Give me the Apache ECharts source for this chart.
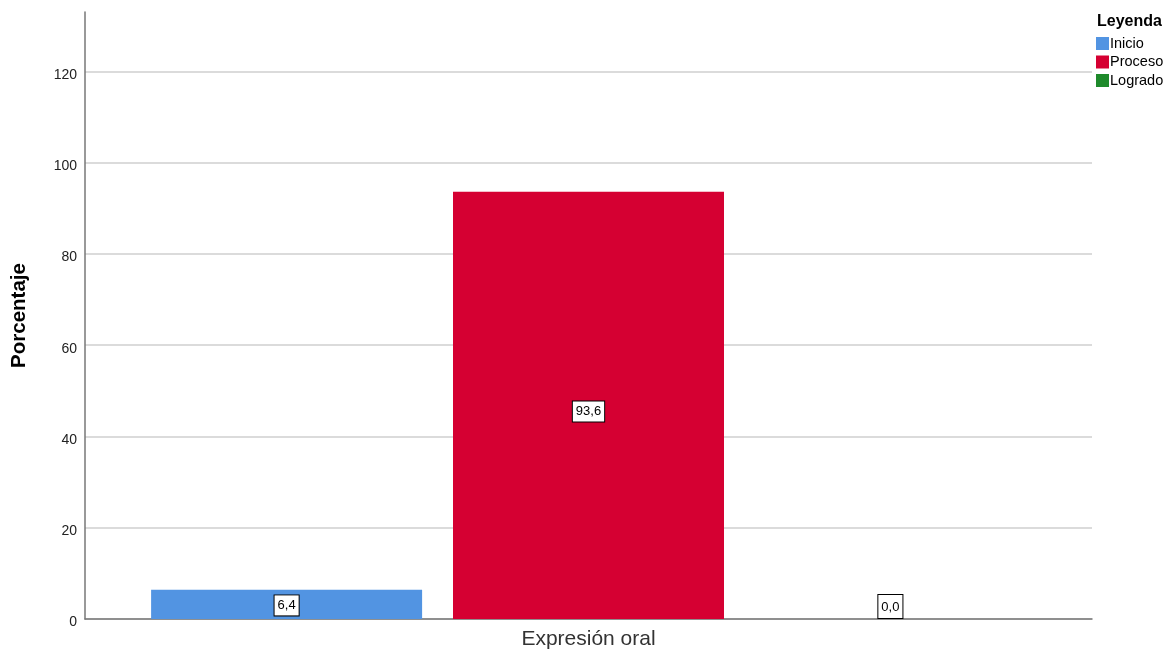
<!DOCTYPE html>
<html>
<head>
<meta charset="utf-8">
<script src="https://cdn.jsdelivr.net/npm/echarts@6/dist/echarts.min.js"></script>
<style>
html,body{margin:0;padding:0;background:#fff;}
#chart{width:1170px;height:652px;}
</style>
</head>
<body>
<div id="chart"></div>
<script>
var categories = ['Expresión oral'];
var seriesNames = ['Inicio', 'Proceso', 'Logrado'];
var inicio = [6.4];
var proceso = [93.6];
var logrado = [0.0];
var colors = ['#5294e2', '#d50032', '#1e8a2b'];
var yTicks = [0, 20, 40, 60, 80, 100, 120];

var chart = echarts.init(document.getElementById('chart'));
var FONT = 'Liberation Sans, Arial, sans-serif';

function mkLabel(pos, offset, pad) {
  return {
    show: true,
    position: pos,
    distance: 1,
    offset: offset,
    formatter: function (p) { return p.value.toFixed(1).replace('.', ','); },
    fontFamily: FONT,
    fontSize: 13,
    color: '#000',
    backgroundColor: '#fff',
    borderColor: '#000',
    borderWidth: 1,
    padding: pad
  };
}

var dataSets = [inicio, proceso, logrado];
var labelCfg = [
  mkLabel('inside', [0, 1], [4, 3, 3, 3]),
  mkLabel('inside', [0, 6], [4, 3, 3, 3]),
  mkLabel('top', [0, 0], [6, 3, 4, 3])
];
var series = seriesNames.map(function (n, i) {
  return {
    name: n,
    type: 'bar',
    data: dataSets[i],
    barWidth: 271,
    barGap: '11.4%',
    itemStyle: { color: colors[i] },
    label: labelCfg[i]
  };
});

chart.setOption({
  animation: false,
  textStyle: { fontFamily: FONT },
  title: {
    text: 'Leyenda',
    left: 1097,
    top: 14,
    padding: 0,
    textStyle: { fontFamily: FONT, fontSize: 16, fontWeight: 'bold', color: '#000' }
  },
  legend: {
    orient: 'vertical',
    left: 1096,
    top: 36,
    padding: 0,
    itemWidth: 13,
    itemHeight: 13,
    itemGap: 3.5,
    icon: 'rect',
    selectedMode: false,
    textStyle: { fontFamily: FONT, fontSize: 14.5, color: '#000', padding: [0, 0, 0, -4] },
    data: seriesNames
  },
  grid: { left: 85, right: 78, top: 12, bottom: 33, containLabel: false },
  xAxis: {
    type: 'category',
    data: categories,
    axisLine: { show: true, lineStyle: { color: '#777', width: 1.5 } },
    axisTick: { show: false },
    axisLabel: { fontFamily: FONT, fontSize: 21, color: '#333', margin: 10 }
  },
  yAxis: {
    type: 'value',
    min: 0,
    max: 133,
    interval: 20,
    name: 'Porcentaje',
    nameLocation: 'middle',
    nameGap: 55,
    nameTextStyle: { fontFamily: FONT, fontSize: 20.5, fontWeight: 'bold', color: '#000' },
    axisLine: { show: true, lineStyle: { color: '#777', width: 1.5 } },
    axisTick: { show: false },
    axisLabel: {
      margin: 8,
      formatter: function (v) { return yTicks.indexOf(v) >= 0 ? '{t|' + v + '}' : ''; },
      rich: {
        t: { fontFamily: FONT, fontSize: 14, color: '#222', padding: [7, 0, 0, 0] }
      }
    },
    splitLine: { show: true, showMaxLine: false, lineStyle: { color: '#cfcfcf', width: 1.5 } }
  },
  series: series
});
</script>
</body>
</html>
